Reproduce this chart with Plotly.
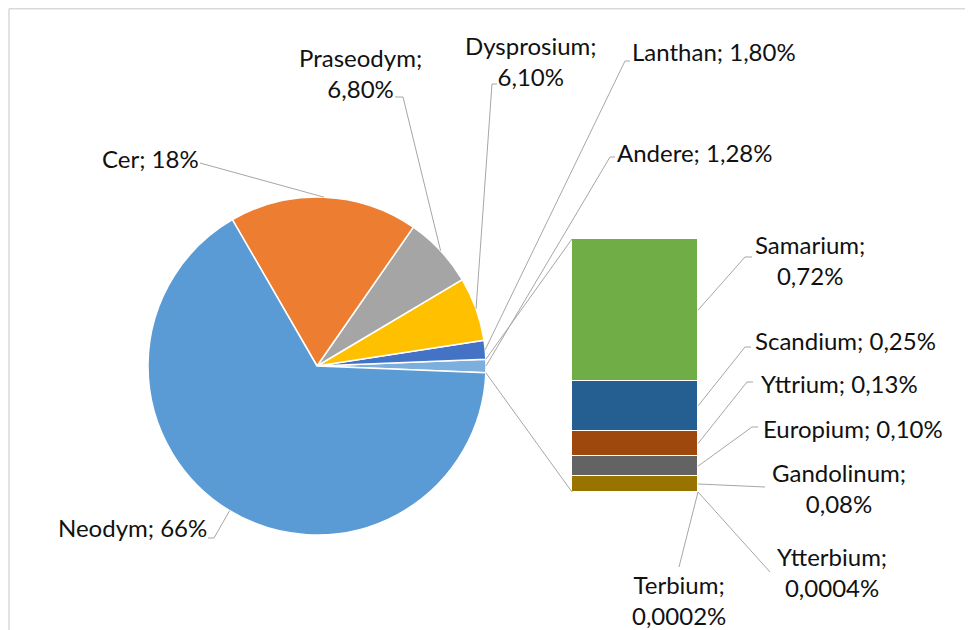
import math
import plotly.graph_objects as go

# ---------------- data ----------------
# pie (counter-clockwise, starting with the aggregated "Andere" slice)
pie_names = ["Andere", "Lanthan", "Dysprosium", "Praseodym", "Cer", "Neodym"]
pie_values = [1.28, 1.80, 6.10, 6.80, 18.0, 66.0]
pie_texts = ["1,28%", "1,80%", "6,10%", "6,80%", "18%", "66%"]
pie_colors = ["#7CAFDD", "#4472C4", "#FFC000", "#A5A5A5", "#ED7D31", "#5B9BD5"]

# stacked bar breakdown of "Andere" (bottom -> top)
bar_names = ["Terbium", "Ytterbium", "Gandolinum", "Europium", "Yttrium", "Scandium", "Samarium"]
bar_values = [0.0002, 0.0004, 0.08, 0.10, 0.13, 0.25, 0.72]
bar_texts = ["0,0002%", "0,0004%", "0,08%", "0,10%", "0,13%", "0,25%", "0,72%"]
bar_colors = ["#43682B", "#264478", "#997300", "#636363", "#9E480E", "#255E91", "#70AD47"]

# ---------------- layout geometry (window pixels) ----------------
PAGE_OFF = 8            # default body margin of the html page
W, H = 973 - PAGE_OFF, 630 - PAGE_OFF

PIE_CX, PIE_CY, PIE_R = 317, 366, 169
BAR_L, BAR_R, BAR_TOP, BAR_BOT = 572, 698, 239, 492

# label positions (block centres), two-line flag, label-side leader points
pie_label_layout = {
    "Neodym": (133, 527, False, [(208, 538), (214, 538)]),
    "Cer": (150, 158, False, [(200, 163)]),
    "Praseodym": (360, 73, True, [(395, 97), (403, 97)]),
    "Dysprosium": (531, 61.5, True, [(497, 84), (492, 84)]),
    "Lanthan": (714, 52, False, [(630, 61), (625, 61)]),
    "Andere": (695, 152, False, [(615, 157), (610, 157)]),
}
bar_label_layout = {
    "Samarium": (810, 260, True, [(752, 257), (745, 257)]),
    "Scandium": (845, 340, False, [(751, 347), (745, 347)]),
    "Yttrium": (839, 383, False, [(753, 382), (747, 382)]),
    "Europium": (853, 428, False, [(758, 427), (752, 427)]),
    "Gandolinum": (839, 488, True, [(765, 487)]),
    "Ytterbium": (832, 572, True, [(770, 572)]),
    "Terbium": (679, 600, True, [(679, 567)]),
}


def px(x):
    return (x - PAGE_OFF) / W


def py(y):
    return 1 - (y - PAGE_OFF) / H


pie_total = sum(pie_values)
deg_per = 360.0 / pie_total
half_andere = pie_values[0] * deg_per / 2.0

fig = go.Figure()

fig.add_trace(go.Pie(
    labels=pie_names, values=pie_values, sort=False,
    direction="counterclockwise", rotation=90 - half_andere,
    marker=dict(colors=pie_colors, line=dict(color="white", width=1.5)),
    textinfo="none", hoverinfo="label+value", showlegend=False,
    domain=dict(x=[px(PIE_CX - PIE_R), px(PIE_CX + PIE_R)],
                y=[py(PIE_CY + PIE_R), py(PIE_CY - PIE_R)]),
))

bar_total = sum(bar_values)
for n, v, c in zip(bar_names, bar_values, bar_colors):
    fig.add_trace(go.Bar(
        x=[0], y=[v], width=1, name=n,
        marker=dict(color=c, line=dict(color="white", width=1.5)),
        showlegend=False, hoverinfo="name+y",
    ))

FONT = dict(family="Lato, Open Sans, sans-serif", size=24, color="#111111")
LINE_COLOR = "#A6A6A6"
shapes = []
annotations = []


def add_leader(points):
    path = "M " + " L ".join(f"{px(x):.5f},{py(y):.5f}" for x, y in points)
    shapes.append(dict(type="path", xref="paper", yref="paper", path=path,
                       line=dict(color=LINE_COLOR, width=1)))


def pie_point(angle_deg):
    a = math.radians(angle_deg)
    return (PIE_CX + PIE_R * math.cos(a), PIE_CY - PIE_R * math.sin(a))


# pie labels + leaders
cum = 0.0
for n, v, t in zip(pie_names, pie_values, pie_texts):
    mid = -half_andere + (cum + v / 2.0) * deg_per
    cum += v
    x, y, two, pts = pie_label_layout[n]
    text = f"{n};<br>{t}" if two else f"{n}; {t}"
    annotations.append(dict(x=px(x), y=py(y), xref="paper", yref="paper",
                            text=text, showarrow=False, font=FONT,
                            xanchor="center", yanchor="middle"))
    add_leader(pts + [pie_point(mid)])


def bar_y(v):
    return BAR_BOT - v / bar_total * (BAR_BOT - BAR_TOP)


# bar labels + leaders
cum = 0.0
for n, v, t in zip(bar_names, bar_values, bar_texts):
    mid = cum + v / 2.0
    cum += v
    x, y, two, pts = bar_label_layout[n]
    text = f"{n};<br>{t}" if two else f"{n}; {t}"
    annotations.append(dict(x=px(x), y=py(y), xref="paper", yref="paper",
                            text=text, showarrow=False, font=FONT,
                            xanchor="center", yanchor="middle"))
    add_leader(pts + [(BAR_R, bar_y(mid))])

# connector lines pie -> bar
add_leader([pie_point(half_andere), (BAR_L, BAR_TOP)])
add_leader([pie_point(-half_andere), (BAR_L, BAR_BOT)])

# chart-area border (left and top edges visible)
shapes.append(dict(type="line", xref="paper", yref="paper",
                   x0=px(9), y0=py(8.7), x1=px(9), y1=0,
                   line=dict(color="#D9D9D9", width=1.5)))
shapes.append(dict(type="line", xref="paper", yref="paper",
                   x0=px(9), y0=py(8.7), x1=1, y1=py(8.7),
                   line=dict(color="#D9D9D9", width=1.5)))

fig.update_layout(
    width=W, height=H,
    margin=dict(l=0, r=0, t=0, b=0),
    paper_bgcolor="white", plot_bgcolor="rgba(0,0,0,0)",
    barmode="stack", bargap=0,
    xaxis=dict(domain=[px(BAR_L), px(BAR_R)], range=[-0.5, 0.5], visible=False,
               fixedrange=True),
    yaxis=dict(domain=[py(BAR_BOT), py(BAR_TOP)], range=[0, bar_total], visible=False,
               fixedrange=True),
    shapes=shapes, annotations=annotations,
    showlegend=False,
)

fig.write_html("out.html")
